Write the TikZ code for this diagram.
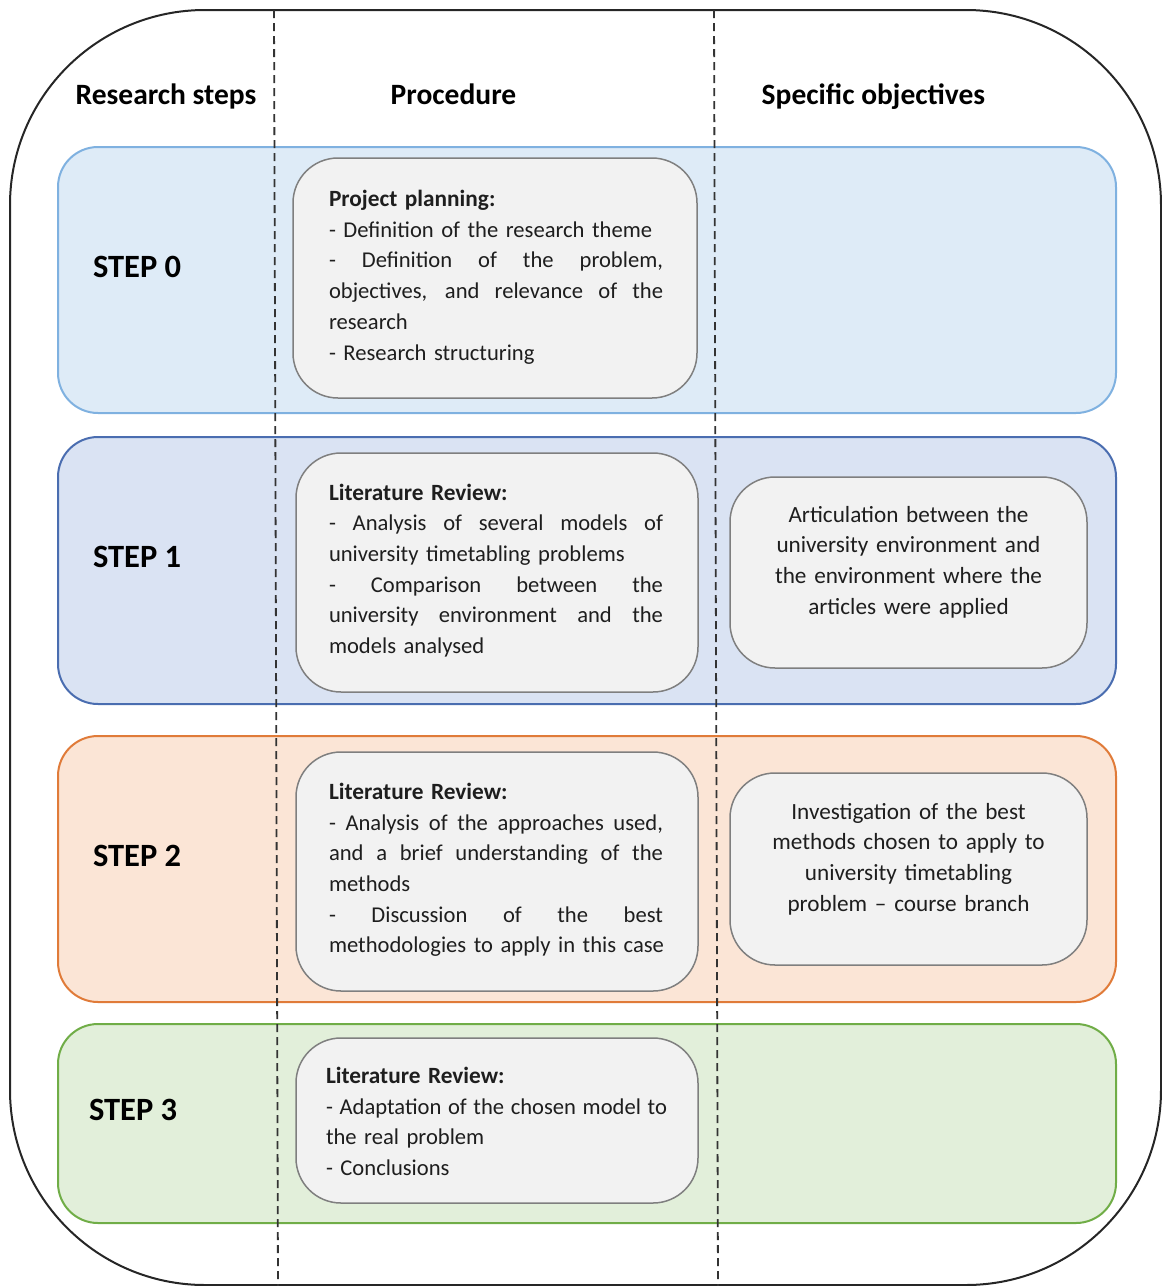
\documentclass[tikz,border=0pt]{standalone}
\usepackage{fontspec}
\setmainfont{Carlito}
\definecolor{bzfill}{HTML}{DEEBF7}
\definecolor{bzline}{HTML}{7FB1E0}
\definecolor{bafill}{HTML}{DAE3F3}
\definecolor{baline}{HTML}{4A6DB0}
\definecolor{bbfill}{HTML}{FBE5D6}
\definecolor{bbline}{HTML}{E07B39}
\definecolor{bcfill}{HTML}{E2EFDA}
\definecolor{bcline}{HTML}{70AD47}
\definecolor{boxfill}{HTML}{F2F2F2}
\definecolor{boxline}{HTML}{7F7F7F}
\definecolor{txt}{HTML}{1E1E1E}
\newcommand{\jline}[2]{\leavevmode{\spaceskip=0.22em plus 1fil minus 0.1em\relax\hbox to #1pt{#2}}}
\newcommand{\ttl}[1]{{\fontsize{23.3}{30.7}\selectfont\bfseries #1}}
\tikzset{
  frame/.style={line width=2pt, draw=black!85, rounded corners=195pt},
  band/.style={rounded corners=40pt, line width=2pt, inner sep=0pt, outer sep=0pt},
  sepline/.style={line width=1.8pt, draw=black!80, dash pattern=on 8pt off 5pt},
  pbox/.style={rounded corners=45pt, line width=1.5pt, draw=boxline, fill=boxfill, inner sep=0pt, outer sep=0pt},
  ptext/.style={inner sep=0pt, outer sep=0pt, align=left, text=txt, text width=360pt, anchor=base west, font=\fontsize{22.6}{30.7}\selectfont},
  otext/.style={inner sep=0pt, outer sep=0pt, align=center, text=txt, text width=357pt, anchor=base, font=\fontsize{23.2}{30.7}\selectfont},
  head/.style={inner sep=0pt, outer sep=0pt, anchor=base, font=\fontsize{29.5}{33}\selectfont\bfseries},
  steplabel/.style={inner sep=0pt, outer sep=0pt, anchor=base west, font=\fontsize{32.5}{36}\selectfont\bfseries}
}
\begin{document}
\begin{tikzpicture}[x=1pt,y=-1pt]
\useasboundingbox (0,0) rectangle (1162,1286);
\draw[frame] (10,10) rectangle (1161,1285);
% bands
\node[band, fill=bzfill, draw=bzline, minimum width=1058pt, minimum height=266pt] (band0) at (587,280) {};
\node[band, fill=bafill, draw=baline, minimum width=1058pt, minimum height=267pt] (band1) at (587,570.5) {};
\node[band, fill=bbfill, draw=bbline, minimum width=1058pt, minimum height=266pt] (band2) at (587,869) {};
\node[band, fill=bcfill, draw=bcline, minimum width=1058pt, minimum height=199pt] (band3) at (587,1123.5) {};
% column separators
\coordinate (sepAtop) at (274,10);
\coordinate (sepAbot) at (278,1286);
\coordinate (sepBtop) at (714,10);
\coordinate (sepBbot) at (718,1286);
\draw[sepline] (sepAtop) -- (sepAbot);
\draw[sepline] (sepBtop) -- (sepBbot);
% headers
\node[head] (hsteps) at (166,104) {Research steps};
\node[head] (hproc) at (453.5,104) {Procedure};
\node[head] (hobj) at (873.5,104) {Specific objectives};
% step labels
\node[steplabel] (step0) at (93,277) {STEP 0};
\node[steplabel] (step1) at (93,567) {STEP 1};
\node[steplabel] (step2) at (93,866) {STEP 2};
\node[steplabel] (step3) at (89,1120) {STEP 3};
% procedure boxes
\node[pbox, minimum width=404pt, minimum height=240pt] (box0) at (495,278) {};
\node[ptext] (txt0) at (329,206.5)
  {\ttl{Project planning:}\\
   - Definition of the research theme\\
   \jline{334}{- Definition of the problem,}\\
   \jline{334}{objectives, and relevance of the}\\
   research\\
   - Research structuring};
\node[pbox, minimum width=402pt, minimum height=239pt] (box1) at (497,572.5) {};
\node[ptext] (txt1) at (329,500)
  {\ttl{Literature Review:}\\
   \jline{334}{- Analysis of several models of}\\
   university timetabling problems\\
   \jline{334}{- Comparison between the}\\
   \jline{334}{university environment and the}\\
   models analysed};
\node[pbox, minimum width=402pt, minimum height=239pt] (box2) at (497,871.5) {};
\node[ptext] (txt2) at (329,799.3)
  {\ttl{Literature Review:}\\
   \jline{334}{- Analysis of the approaches used,}\\
   \jline{334}{and a brief understanding of the}\\
   methods\\
   \jline{334}{- Discussion of the best}\\
   methodologies to apply in this case};
\node[pbox, minimum width=402pt, minimum height=165pt] (box3) at (497,1120.5) {};
\node[ptext] (txt3) at (326,1083.3)
  {\ttl{Literature Review:}\\
   \jline{341}{- Adaptation of the chosen model to}\\
   the real problem\\
   - Conclusions};
% objective boxes
\node[pbox, minimum width=357pt, minimum height=191pt] (obj1) at (908.5,572.5) {};
\node[otext] (otxt1) at (908.5,522)
  {Articulation between the\\ university environment and\\ the environment where the\\ articles were applied};
\node[pbox, minimum width=357pt, minimum height=192pt] (obj2) at (908.5,869) {};
\node[otext] (otxt2) at (908.5,819)
  {Investigation of the best\\ methods chosen to apply to\\ university timetabling\\ problem \textendash\ course branch};
\end{tikzpicture}
\end{document}
